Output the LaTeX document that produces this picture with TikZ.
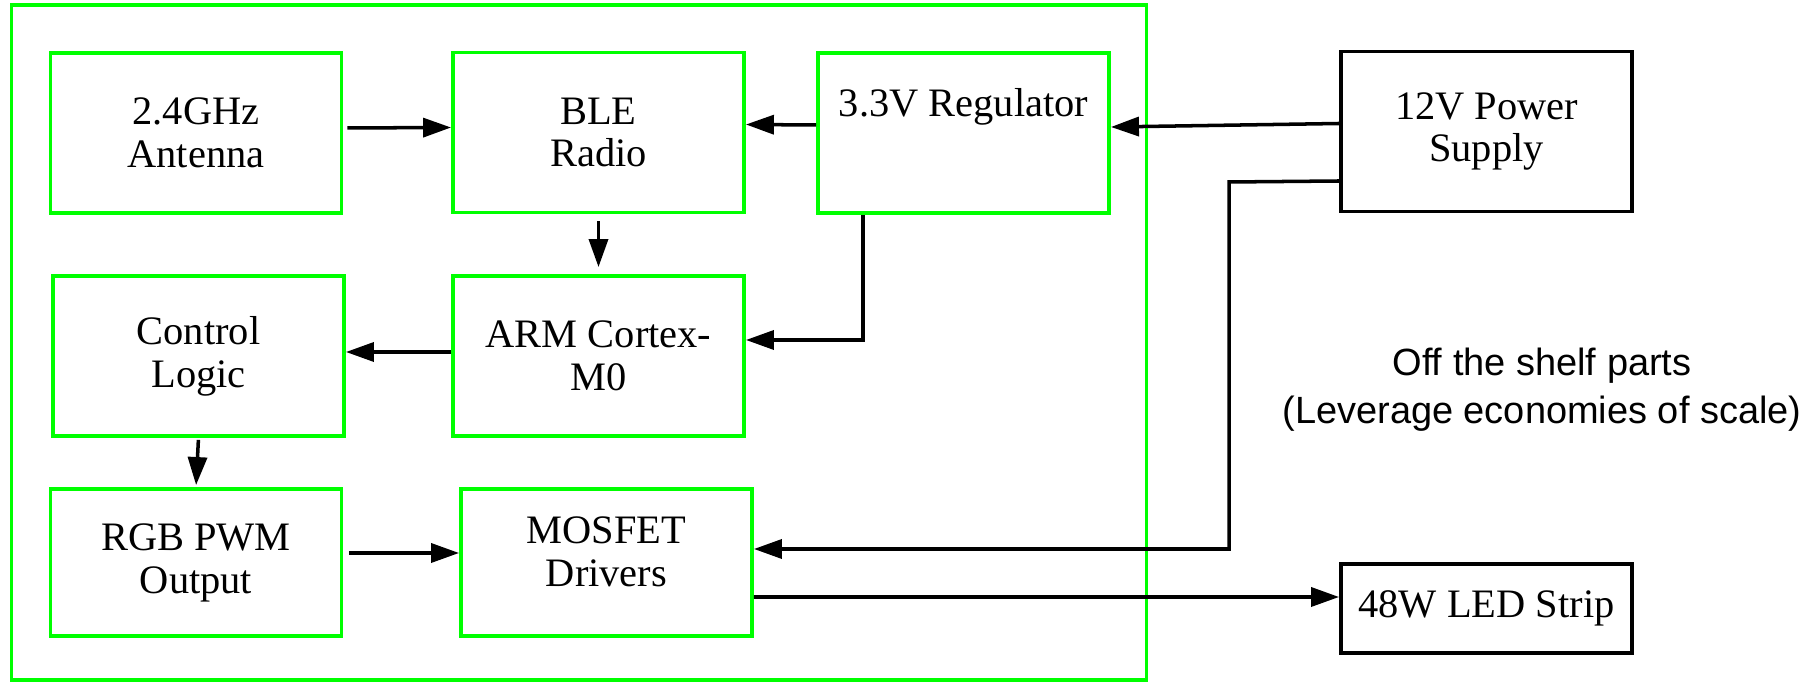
\documentclass[tikz,border=0pt]{standalone}
\usepackage{fontspec}
\setmainfont{Liberation Serif}
\newfontfamily\notefont{Liberation Sans}
\usetikzlibrary{arrows.meta}
\definecolor{brdgreen}{RGB}{0,255,0}

\begin{document}
\begin{tikzpicture}[
        gbox/.style={rectangle, draw=brdgreen, line width=1.1pt, minimum width=2.91cm, minimum height=1.6cm, align=center, font=\fontsize{11.5}{12.2}\selectfont},
        kbox/.style={rectangle, draw=black, line width=1.1pt, minimum width=2.91cm, minimum height=1.6cm, align=center, font=\fontsize{11.5}{12.2}\selectfont},
        arr/.style={line width=1pt, -{Triangle[length=0.28cm, width=0.19cm]}}
    ]
        \useasboundingbox (0,0) rectangle (18.06,-6.82);
        \node (board) [rectangle, draw=brdgreen, line width=1.1pt, minimum width=11.35cm, minimum height=6.75cm] at (5.79,-3.425) {};
        \begin{scope}[every node/.style={gbox}]
            \node (ant) at (1.96,-1.33) {2.4GHz\\Antenna};
            \node (ble) at (5.985,-1.325) {BLE\\Radio};
            \node (reg) [label={[yshift=0.26cm]center:3.3V Regulator}] at (9.635,-1.33) {};
            \node (ctrl) at (1.985,-3.56) {Control\\Logic};
            \node (arm) at (5.985,-3.56) {ARM Cortex-\\M0};
            \node (rgb) [minimum height=1.47cm] at (1.96,-5.625) {RGB PWM\\Output};
            \node (mos) [minimum height=1.47cm, label={[yshift=0.11cm, align=center]center:MOSFET\\Drivers}] at (6.065,-5.625) {};
        \end{scope}
        \begin{scope}[every node/.style={kbox}]
            \node (psu) at (14.865,-1.315) {12V Power\\Supply};
            \node (led) [minimum height=0.89cm] at (14.865,-6.085) {48W LED Strip};
        \end{scope}
        \node (note) [align=center, font=\notefont\fontsize{10.8}{13.6}\selectfont] at (15.42,-3.9) {Off the shelf parts\\(Leverage economies of scale)};
        \coordinate (tap) at (12.29,-1.82);
        \path [arr] ([yshift=0.05cm]ant.east) edge[shorten <=0.04cm] ([yshift=0.05cm]ble.west);
        \path [arr] ([yshift=0.08cm]reg.west) edge ([yshift=0.08cm]ble.east);
        \path [arr] ([yshift=0.08cm]psu.west) edge ([yshift=0.06cm]reg.east);
        \path [arr] (ble.south) edge[shorten <=0.07cm, shorten >=0.07cm] (arm.north);
        \path [arr] ([yshift=0.04cm]arm.west) edge ([yshift=0.04cm]ctrl.east);
        \path [arr] (ctrl.south) edge[shorten <=0.02cm, shorten >=0.02cm] (rgb.north);
        \path [arr] ([yshift=0.095cm]rgb.east) edge[shorten <=0.055cm] ([yshift=0.095cm]mos.west);
        \draw [arr] ([xshift=-1.005cm]reg.south) |- ([yshift=0.16cm]arm.east);
        \draw [arr] ([yshift=-0.495cm]psu.west) -- (tap) |- ([yshift=0.135cm]mos.east);
        \draw [arr] ([yshift=-0.345cm]mos.east) -- ([yshift=0.115cm]led.west);
    \end{tikzpicture}
\end{document}
